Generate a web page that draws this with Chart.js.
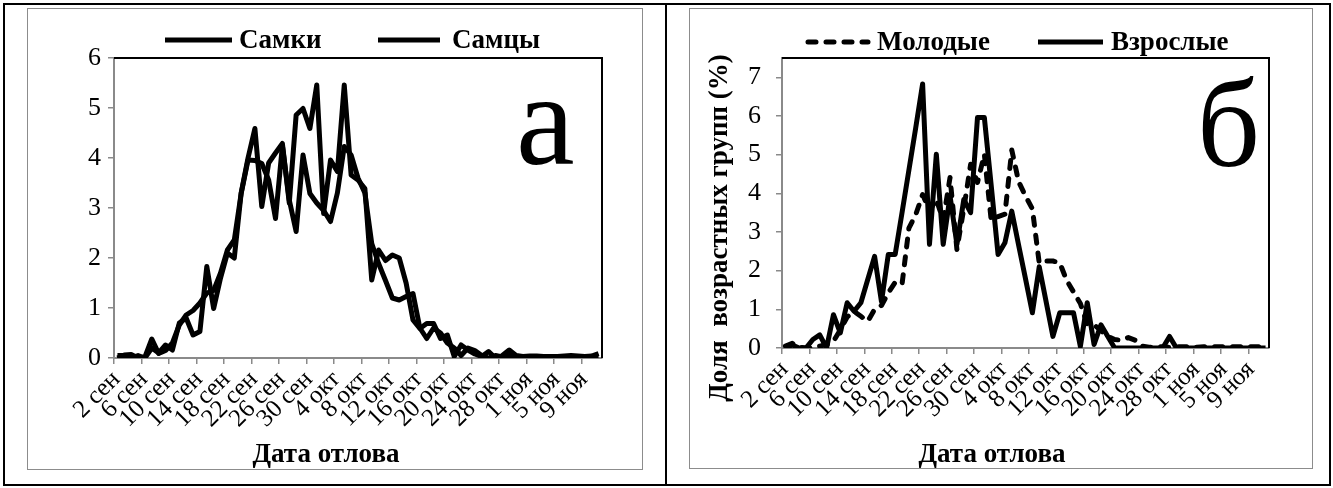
<!DOCTYPE html>
<html lang="ru">
<head>
<meta charset="utf-8">
<title>Динамика отлова</title>
<script src="https://cdn.jsdelivr.net/npm/chart.js@4.4.1/dist/chart.umd.min.js"></script>
<style>
  html, body { margin: 0; padding: 0; background: #fff; }
  body { width: 1333px; height: 488px; position: relative; overflow: hidden; }
  .frame { position: absolute; border: 2px solid #000; box-sizing: border-box; }
  .box { position: absolute; border: 1.5px solid #8c8c8c; box-sizing: border-box; }
  canvas { position: absolute; }
</style>
</head>
<body>
<div class="frame" style="left:3px;top:3px;width:664px;height:483px"></div>
<div class="frame" style="left:665px;top:3px;width:666px;height:483px"></div>
<div class="box" style="left:27px;top:8px;width:616px;height:462px"></div>
<div class="box" style="left:689px;top:8px;width:624px;height:461px"></div>
<canvas id="chartSex" style="left:27px;top:8px" width="616" height="462"></canvas>
<canvas id="chartAge" style="left:689px;top:8px" width="624" height="461"></canvas>

<script>
// Catch dates, one category per day (2 Sep – 11 Nov)
const days = [
  '2 сен','3 сен','4 сен','5 сен','6 сен','7 сен','8 сен','9 сен','10 сен','11 сен',
  '12 сен','13 сен','14 сен','15 сен','16 сен','17 сен','18 сен','19 сен','20 сен','21 сен',
  '22 сен','23 сен','24 сен','25 сен','26 сен','27 сен','28 сен','29 сен','30 сен',
  '1 окт','2 окт','3 окт','4 окт','5 окт','6 окт','7 окт','8 окт','9 окт','10 окт',
  '11 окт','12 окт','13 окт','14 окт','15 окт','16 окт','17 окт','18 окт','19 окт','20 окт',
  '21 окт','22 окт','23 окт','24 окт','25 окт','26 окт','27 окт','28 окт','29 окт','30 окт','31 окт',
  '1 ноя','2 ноя','3 ноя','4 ноя','5 ноя','6 ноя','7 ноя','8 ноя','9 ноя','10 ноя','11 ноя'
];
const labelEvery = 4;

// Share of the catch per day, %
const females = [
  0.05,0.05,0.00,0.05,0.00,0.20,0.10,0.26,0.16,0.70,
  0.80,0.46,0.53,1.83,0.99,1.60,2.10,2.00,3.30,4.00,
  4.59,3.03,3.90,4.10,4.29,3.10,4.86,4.99,4.59,5.46,
  2.89,3.96,3.73,5.46,3.66,3.56,3.39,1.56,2.16,1.95,
  2.06,2.00,1.50,0.76,0.59,0.69,0.69,0.39,0.46,0.03,
  0.26,0.16,0.08,0.03,0.13,0.00,0.05,0.16,0.05,0.03,
  0.04,0.04,0.03,0.03,0.03,0.04,0.05,0.04,0.03,0.04,0.09
];
const males = [
  0.00,0.06,0.07,0.00,0.02,0.38,0.09,0.15,0.30,0.66,
  0.86,0.95,1.10,1.30,1.35,1.70,2.16,2.36,3.29,3.96,
  3.95,3.89,3.56,2.79,4.25,3.16,2.53,4.06,3.29,3.10,
  2.95,2.73,3.30,4.23,4.06,3.60,3.30,2.29,1.89,1.55,
  1.20,1.16,1.23,1.29,0.60,0.39,0.60,0.50,0.30,0.20,
  0.05,0.20,0.15,0.05,0.00,0.05,0.02,0.05,0.02,0.00,
  0.02,0.03,0.02,0.02,0.03,0.03,0.02,0.02,0.02,0.03,0.02
];
const young = [
  0.05,0.12,0.02,0.00,0.00,0.05,0.09,0.17,0.47,0.80,
  0.95,0.82,0.69,1.00,1.10,1.43,1.70,1.65,3.10,3.45,
  3.97,3.55,3.84,3.30,4.41,2.55,3.60,4.75,4.28,5.01,
  3.30,3.40,3.46,5.12,4.30,3.93,3.60,2.20,2.25,2.25,
  2.20,1.75,1.45,1.15,0.62,0.60,0.45,0.30,0.22,0.20,
  0.27,0.20,0.05,0.02,0.03,0.03,0.02,0.03,0.03,0.03,
  0.02,0.03,0.03,0.03,0.03,0.03,0.03,0.03,0.03,0.03,0.06
];
const adults = [
  0.00,0.08,0.00,0.00,0.22,0.34,0.00,0.86,0.39,1.17,
  0.95,1.17,1.77,2.37,1.20,2.42,2.42,3.50,4.60,5.70,
  6.83,2.68,5.01,2.68,3.93,2.68,3.84,3.50,5.96,5.96,
  4.20,2.42,2.72,3.54,2.66,1.79,0.91,2.10,1.20,0.30,
  0.91,0.91,0.91,0.04,1.17,0.09,0.60,0.30,0.00,0.00,
  0.00,0.00,0.00,0.00,0.00,0.00,0.30,0.00,0.00,0.00,
  0.00,0.00,0.00,0.00,0.00,0.00,0.00,0.00,0.00,0.00,0.00
];

const xTitle = 'Дата отлова';
const yTitleAge = 'Доля  возрастных групп (%)';

const SERIF = '"Liberation Serif", "Times New Roman", serif';
const AXIS_GREY = '#8a8a8a';
Chart.defaults.font.family = SERIF;
Chart.defaults.color = '#000';

// Plot-area border, legend, panel letter and axis titles
const panelDecor = {
  id: 'panelDecor',
  beforeDatasetsDraw(chart) {
    const { ctx, chartArea: a } = chart;
    ctx.save();
    ctx.strokeStyle = '#000';
    ctx.lineWidth = 2;
    ctx.beginPath();
    ctx.moveTo(a.left, a.top);
    ctx.lineTo(a.right, a.top);
    ctx.lineTo(a.right, a.bottom);
    ctx.stroke();
    ctx.restore();
  },
  afterDraw(chart, args, o) {
    const ctx = chart.ctx;
    ctx.save();
    ctx.fillStyle = '#000';
    ctx.font = o.legendFont;
    ctx.textAlign = 'left';
    ctx.textBaseline = 'middle';
    chart.data.datasets.forEach((ds, i) => {
      const it = o.legendItems[i];
      ctx.save();
      ctx.strokeStyle = ds.borderColor;
      ctx.lineWidth = ds.borderWidth;
      ctx.lineCap = ds.borderCapStyle || 'butt';
      ctx.setLineDash(ds.borderDash || []);
      ctx.beginPath();
      ctx.moveTo(it.x0, o.legendY);
      ctx.lineTo(it.x1, o.legendY);
      ctx.stroke();
      ctx.restore();
      ctx.fillText(ds.label, it.tx, o.legendY + 1);
    });

    ctx.font = o.letterFont;
    ctx.textBaseline = 'alphabetic';
    ctx.fillText(o.letter, o.letterX, o.letterY);

    ctx.font = o.titleFont;
    ctx.textAlign = 'center';
    ctx.textBaseline = 'middle';
    ctx.fillText(o.xTitle, o.xTitleX, o.xTitleY);
    if (o.yTitle) {
      ctx.translate(o.yTitleX, o.yTitleY);
      ctx.rotate(-Math.PI / 2);
      ctx.fillText(o.yTitle, 0, 0);
    }
    ctx.restore();
  }
};

function lineSet(label, data, dashed) {
  return {
    label, data,
    borderColor: '#000',
    backgroundColor: '#000',
    borderWidth: 5,
    borderDash: dashed ? [8, 10] : [],
    borderCapStyle: dashed ? 'round' : 'butt',
    borderJoinStyle: 'round',
    pointRadius: 0,
    tension: 0,
    fill: false
  };
}

function panelOptions(cfg) {
  return {
    responsive: false,
    animation: false,
    events: [],
    layout: { padding: { left: 0, top: cfg.top, right: cfg.padRight, bottom: 0 } },
    plugins: { legend: { display: false }, tooltip: { enabled: false }, panelDecor: cfg.decor },
    scales: {
      x: {
        type: 'category',
        offset: true,
        afterFit: s => { s.height = cfg.xHeight; },
        border: { color: AXIS_GREY, width: 2 },
        grid: {
          offset: true,
          drawOnChartArea: false,
          drawTicks: true,
          tickLength: 6,
          lineWidth: 1.5,
          color: c => (c.index % labelEvery === 0 ? AXIS_GREY : 'rgba(0,0,0,0)')
        },
        ticks: {
          autoSkip: false,
          maxRotation: 45,
          minRotation: 45,
          padding: 1,
          labelOffset: -1,
          font: { size: 25 },
          callback: (v, i) => (i % labelEvery === 0 ? days[i] : '')
        }
      },
      y: {
        min: 0,
        max: cfg.yMax,
        bounds: 'data',
        afterFit: s => { s.width = cfg.yWidth; },
        border: { color: AXIS_GREY, width: 2 },
        grid: { drawOnChartArea: false, drawTicks: true, tickLength: 6, lineWidth: 1.5, color: AXIS_GREY },
        ticks: { stepSize: 1, includeBounds: false, padding: cfg.yPad, font: { size: 26 } }
      }
    }
  };
}

new Chart(document.getElementById('chartSex'), {
  type: 'line',
  data: {
    labels: days,
    datasets: [lineSet('Самки', females, false), lineSet('Самцы', males, false)]
  },
  options: panelOptions({
    top: 50, padRight: 41, xHeight: 112, yWidth: 87, yMax: 6, yPad: 7,
    decor: {
      legendFont: 'bold 27px ' + SERIF,
      legendY: 32,
      legendItems: [{ x0: 138, x1: 205, tx: 212 }, { x0: 351, x1: 413, tx: 425 }],
      letter: 'а', letterFont: '132px ' + SERIF, letterX: 489, letterY: 156,
      titleFont: 'bold 27px ' + SERIF, xTitle, xTitleX: 299, xTitleY: 447
    }
  }),
  plugins: [panelDecor]
});

new Chart(document.getElementById('chartAge'), {
  type: 'line',
  data: {
    labels: days,
    datasets: [lineSet('Молодые', young, true), lineSet('Взрослые', adults, false)]
  },
  options: panelOptions({
    top: 50, padRight: 44, xHeight: 121, yWidth: 93, yMax: 7.5, yPad: 15,
    decor: {
      legendFont: 'bold 27px ' + SERIF,
      legendY: 34,
      legendItems: [{ x0: 119, x1: 179, tx: 188 }, { x0: 349, x1: 414, tx: 422 }],
      letter: 'б', letterFont: '124px ' + SERIF, letterX: 508, letterY: 158,
      titleFont: 'bold 27px ' + SERIF, xTitle, xTitleX: 303, xTitleY: 447,
      yTitle: yTitleAge, yTitleX: 31, yTitleY: 220
    }
  }),
  plugins: [panelDecor]
});
</script>
</body>
</html>
